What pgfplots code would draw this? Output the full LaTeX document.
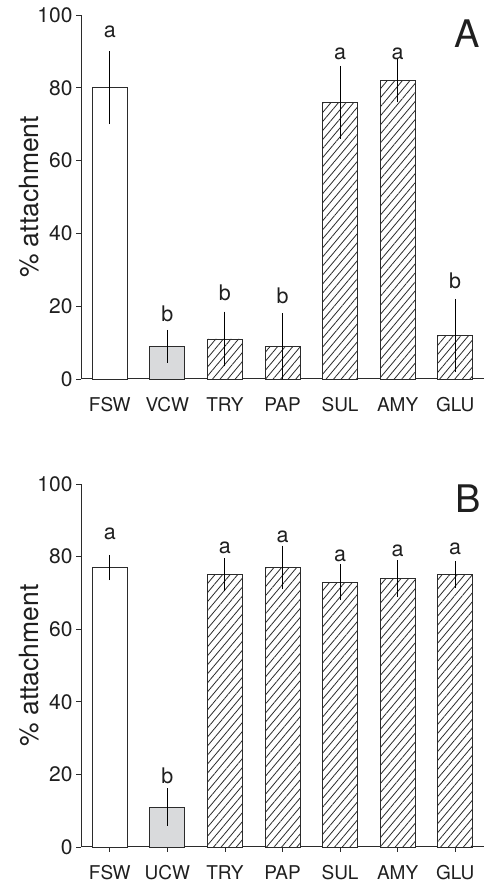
\documentclass[border=0pt]{standalone}
\usepackage{pgfplots}
\pgfplotsset{compat=1.18}
\usepackage{fontspec}
\setmainfont{TeX Gyre Heros}
\usetikzlibrary{patterns.meta}
\definecolor{barline}{HTML}{2B2B2B}
\definecolor{gfill}{HTML}{D9DADC}
\tikzset{lett/.style={anchor=base, font=\fontsize{21.5}{24}\selectfont, text=black!88}}
\pgfplotsset{
 myaxis/.style={
  scale only axis, width=403pt,
  xmin=-0.5, xmax=6.5, ymin=0, ymax=100,
  axis lines*=left, axis line style={barline, line width=1pt},
  ytick={0,20,...,100}, xtick={0,...,6},
  tick style={barline, line width=0.8pt},
  tick align=outside, major tick length=5pt,
  yticklabel style={font=\fontsize{21}{24}\selectfont, text=black!88},
  xticklabel style={font=\fontsize{19}{22}\selectfont, text=black!88},
  /pgf/number format/assume math mode=true,
  ylabel={\% attachment},
  ylabel style={font=\fontsize{26.5}{30}\selectfont, text=black!88, at={(axis description cs:-0.13,0.5)}, anchor=center},
  clip=false,
 },
 wbar/.style={ybar, bar width=35pt, draw=barline, line width=0.8pt, fill=white,
   error bars/y dir=both, error bars/y explicit, error bars/error mark=none,
   error bars/error bar style={line width=0.9pt, black}},
 gbar/.style={wbar, fill=gfill},
 hbar/.style={wbar, fill=white, postaction={pattern={Lines[angle=50,distance=5.8pt,line width=0.8pt]}, pattern color=barline}},
}
\begin{document}
\begin{tikzpicture}
\path[use as bounding box] (0pt,0pt) rectangle (484pt,885pt);
% Panel A
\begin{axis}[myaxis, height=364pt, at={(81pt,506pt)}, anchor=south west,
  xticklabels={FSW,VCW,TRY,PAP,SUL,AMY,GLU},
  x tick style={draw=none}, xticklabel style={yshift=-10pt}]
\addplot[wbar] coordinates {(0,80) +- (0,10)};
\addplot[gbar] coordinates {(1,9) +- (0,4.5)};
\addplot[hbar] coordinates {(2,11) +- (0,7.5) (3,9) +- (0,9) (4,76) +- (0,10) (5,82) +- (0,6) (6,12) +- (0,10)};
\node[lett] at (axis cs:0,93.7) {a};
\node[lett] at (axis cs:1,15.7) {b};
\node[lett] at (axis cs:2,21.7) {b};
\node[lett] at (axis cs:3,20.8) {b};
\node[lett] at (axis cs:4,87.8) {a};
\node[lett] at (axis cs:5,87.8) {a};
\node[lett] at (axis cs:6,24.9) {b};
\node[font=\fontsize{38}{40}\selectfont, text=black!88] at (rel axis cs:0.958,0.948) {A};
\end{axis}
% Panel B
\begin{axis}[myaxis, height=363pt, at={(81pt,38pt)}, anchor=south west,
  xticklabels={FSW,UCW,TRY,PAP,SUL,AMY,GLU}, xticklabel style={yshift=-10pt}]
\addplot[wbar] coordinates {(0,77) +- (0,3.5)};
\addplot[gbar] coordinates {(1,11) +- (0,5.2)};
\addplot[hbar] coordinates {(2,75) +- (0,4.5) (3,77) +- (0,6) (4,73) +- (0,5) (5,74) +- (0,5) (6,75) +- (0,3.7)};
\node[lett] at (axis cs:0,84.6) {a};
\node[lett] at (axis cs:1,17.5) {b};
\node[lett] at (axis cs:2,80.9) {a};
\node[lett] at (axis cs:3,83.8) {a};
\node[lett] at (axis cs:4,78.6) {a};
\node[lett] at (axis cs:5,79.9) {a};
\node[lett] at (axis cs:6,80.6) {a};
\node[font=\fontsize{38}{40}\selectfont, text=black!88] at (rel axis cs:0.96,0.959) {B};
\end{axis}
\end{tikzpicture}
\end{document}
